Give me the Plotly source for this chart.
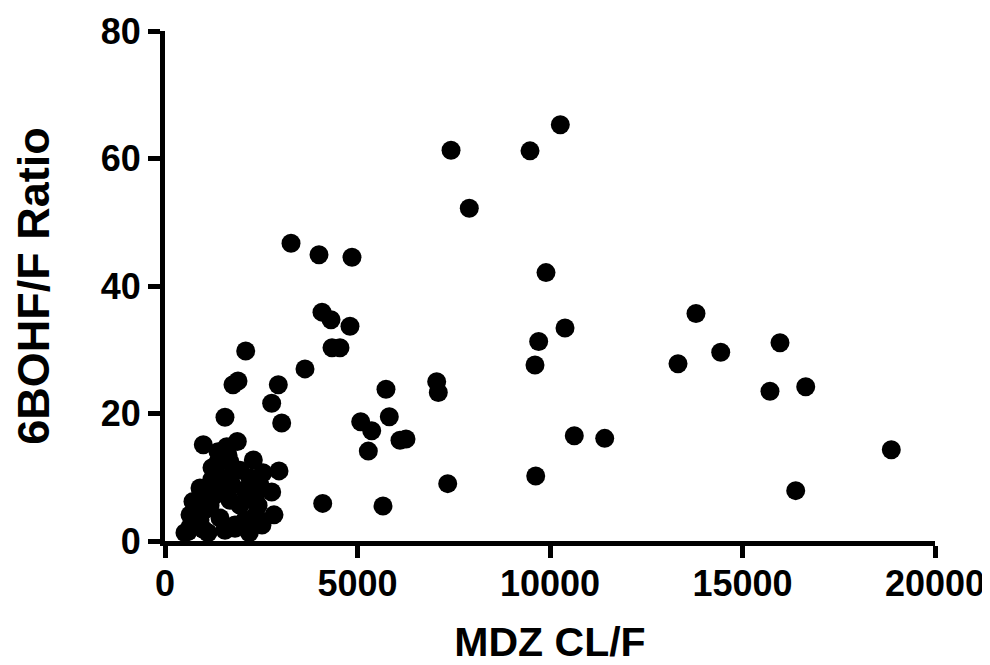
import plotly.graph_objects as go

# MDZ CL/F values (x) and 6BOHF/F ratio values (y)
mdz_clf = [
    3273, 4000, 4857, 4078, 4312, 4805, 4338, 4545, 3636, 2096,
    1766, 1896, 2943, 2771, 3031, 1558, 995, 5740, 7057, 7099,
    5083, 5369, 5826, 6104, 6260, 5281, 7343, 4096, 5662, 10268,
    7429, 9481, 7904, 9896, 10390, 9706, 9610, 10631, 11421, 9629,
    13792, 14434, 13325, 15974, 15714, 16642, 18865, 16382,
    2190, 2364, 2831, 2771, 2961, 2294, 2545,
    1878, 1603, 1377, 1688, 1221, 1948, 1481, 1213, 909, 1740,
    2078, 1299, 727, 1688, 1039, 1948, 1429, 649, 1117, 519,
    831, 1818, 2338, 600, 1000,
    909, 1169, 1558, 1818, 2208, 2078, 1558, 1299, 649, 1039,
    1636, 2468, 2416, 1377, 1818, 2519,
]
ratio_6bohf = [
    46.7, 44.9, 44.5, 35.9, 34.7, 33.7, 30.3, 30.3, 27.0, 29.8,
    24.5, 25.1, 24.5, 21.6, 18.5, 19.4, 15.1, 23.8, 25.0, 23.3,
    18.7, 17.3, 19.5, 15.8, 16.0, 14.1, 9.0, 5.9, 5.5, 65.3,
    61.3, 61.2, 52.2, 42.1, 33.4, 31.3, 27.6, 16.5, 16.1, 10.2,
    35.7, 29.6, 27.8, 31.1, 23.5, 24.2, 14.3, 7.9,
    1.3, 4.1, 4.1, 7.7, 11.0, 12.7, 10.7,
    15.6, 14.8, 14.0, 12.4, 11.5, 11.1, 9.9, 9.6, 8.3, 8.8,
    8.0, 7.2, 6.2, 6.4, 4.9, 5.6, 3.6, 2.2, 1.3, 1.3,
    3.0, 2.5, 6.7, 1.5, 1.8,
    3.3, 5.6, 8.0, 11.1, 9.9, 3.3, 1.7, 9.6, 4.1, 7.2,
    13.5, 8.8, 5.6, 12.4, 2.0, 2.5,
]

x_ticks = [0, 5000, 10000, 15000, 20000]
y_ticks = [0, 20, 40, 60, 80]

font_family = "Liberation Sans, Arial, sans-serif"

fig = go.Figure(
    go.Scatter(
        x=mdz_clf,
        y=ratio_6bohf,
        mode="markers",
        marker=dict(size=19, color="black", line=dict(width=0)),
        cliponaxis=False,
        showlegend=False,
    )
)

axis_common = dict(
    showline=True,
    linewidth=5,
    linecolor="black",
    ticks="outside",
    ticklen=12,
    tickwidth=5,
    tickcolor="black",
    showgrid=False,
    zeroline=False,
    automargin=False,
    tickfont=dict(family=font_family, size=36, color="black", weight="bold"),
)

# The page body adds an 8px offset, so the figure is sized to fit the 990x665 window.
fig.update_layout(
    width=982,
    height=657,
    paper_bgcolor="white",
    plot_bgcolor="white",
    margin=dict(l=157, r=55, t=23, b=124, pad=0, autoexpand=False),
    xaxis=dict(
        range=[0, 20000],
        tickvals=x_ticks,
        ticktext=[str(v) for v in x_ticks],
        ticklabelstandoff=-5,
        title=dict(text="MDZ CL/F", font=dict(family=font_family, size=41, color="black", weight="bold"), standoff=30),
        **axis_common,
    ),
    yaxis=dict(
        range=[0, 80],
        tickvals=y_ticks,
        ticktext=[str(v) for v in y_ticks],
        title=dict(text="6BOHF/F Ratio", font=dict(family=font_family, size=45, color="black", weight="bold"), standoff=55),
        **axis_common,
    ),
)

fig.write_html("out.html")
